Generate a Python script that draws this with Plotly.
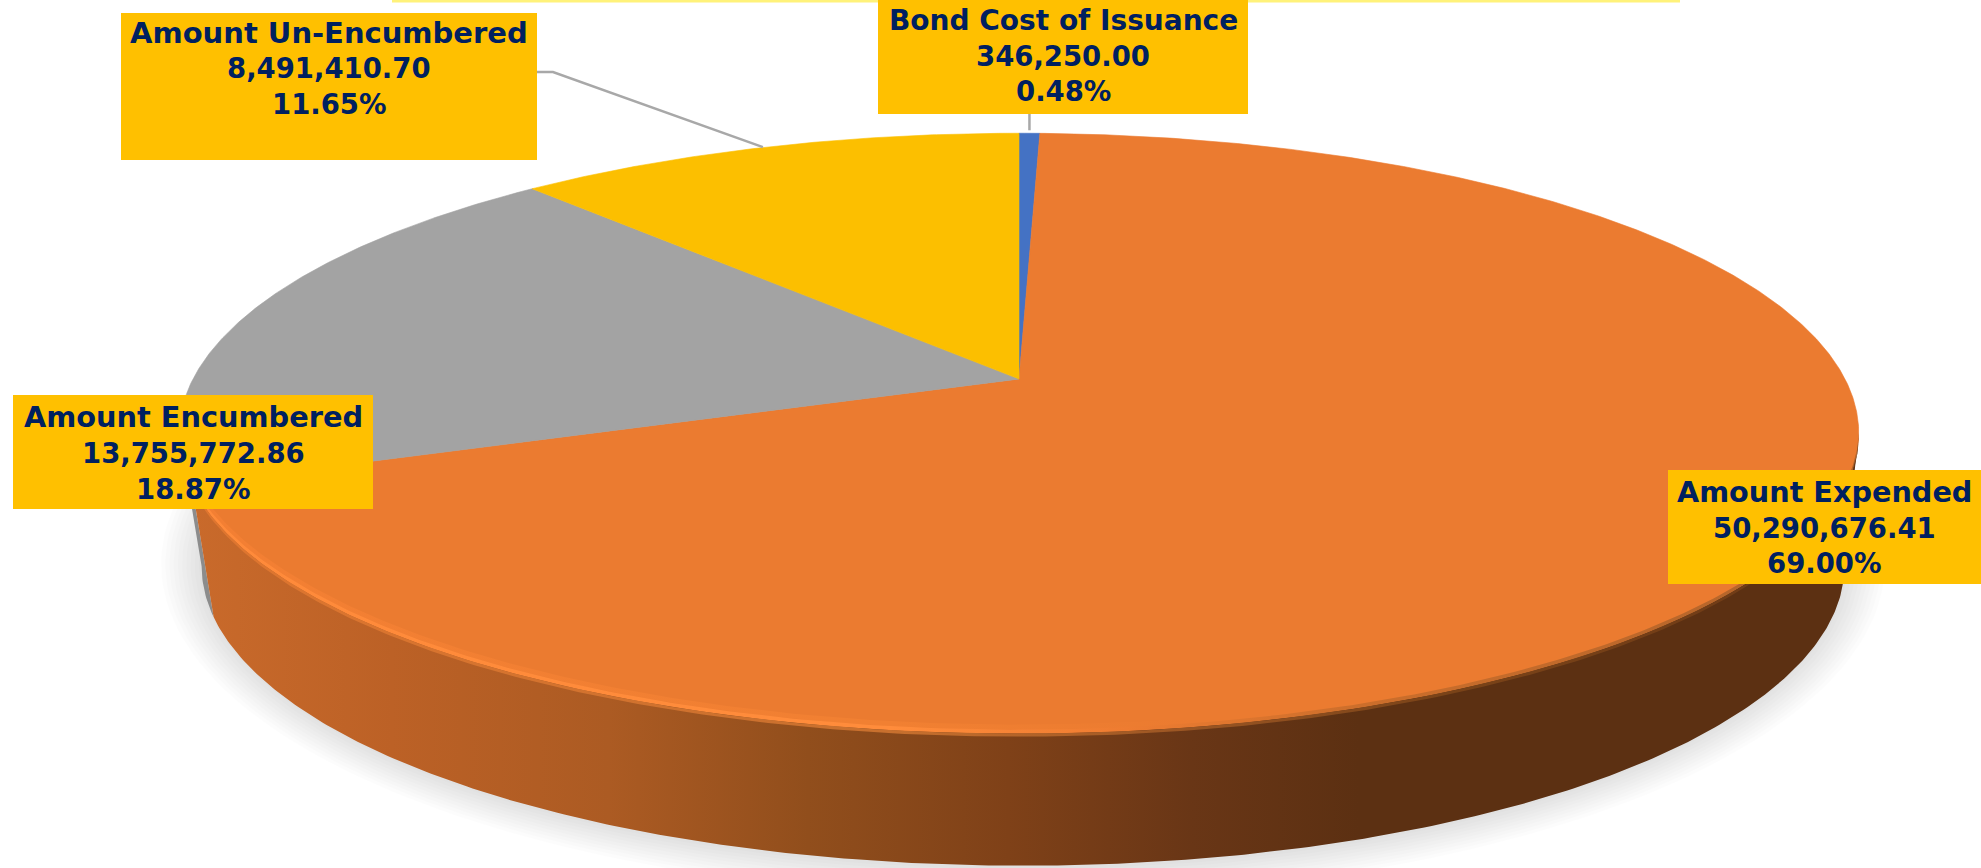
import numpy as np
import plotly.graph_objects as go

# ---- data ----
categories = ["Bond Cost of Issuance", "Amount Expended", "Amount Encumbered", "Amount Un-Encumbered"]
values = [346250.00, 50290676.41, 13755772.86, 8491410.70]

# ---- styles ----
slice_colors = ["#4472C4", "#EB7B30", "#A3A3A3", "#FCBF00"]
label_fill = "#FFC000"
label_ink = "#002060"
W, H = 1981, 868

# perspective model of the tilted disc (page pixels on hidden axes)
APEX_X, APEX_Y = 1019.0, 379.0
A, B, P = 826.0, 290.0, 0.18
BOTTOM_X, BOTTOM_Y, BOTTOM_A = 1023.0, 512.0, 808.0


def rim(theta_deg, bottom=False):
    t = np.radians(np.asarray(theta_deg, dtype=float))
    X, Y = np.sin(t), np.cos(t)
    w = 1 + P * Y
    if bottom:
        return BOTTOM_X + BOTTOM_A * X / w, BOTTOM_Y - B * Y / w
    return APEX_X + A * X / w, APEX_Y - B * Y / w


total = sum(values)
shares = [v / total for v in values]
edges = np.concatenate([[0.0], np.cumsum(shares)]) * 360.0
fig = go.Figure()

# soft ground shadow
for k in range(10):
    t = np.linspace(0, 2 * np.pi, 240)
    fig.add_trace(go.Scatter(
        x=1023 + (862 - 4.2 * k) * np.cos(t), y=564 + (334 - 3.2 * k) * np.sin(t),
        mode="lines", fill="toself", fillcolor="rgba(0,0,0,0.0115)", line=dict(width=0),
        hoverinfo="skip", showlegend=False))

# side wall: grey sliver and shaded orange wall
LEFT_EXTREME = -np.degrees(np.arccos(-P))
exp_end = edges[2] - 360.0
gx, gy = rim(np.linspace(exp_end, LEFT_EXTREME, 20))
gbx, gby = rim(np.linspace(LEFT_EXTREME, exp_end, 20), bottom=True)
fig.add_trace(go.Scatter(x=np.r_[gx, gbx], y=np.r_[gy, gby], mode="lines", fill="toself",
                         fillcolor="#8C8C8C", line=dict(width=0), hoverinfo="skip", showlegend=False))
th = np.linspace(exp_end, -360 - LEFT_EXTREME, 300)
tx, ty = rim(th)
bx, by = rim(th[::-1], bottom=True)
wall_stops = [[0.0, "#C96A2B"], [0.12, "#BC6126"], [0.25, "#AC5B23"], [0.37, "#914E1C"], [0.49, "#7F4118"],
              [0.60, "#693616"], [0.70, "#5C3012"], [1.0, "#5C3012"]]
fig.add_trace(go.Scatter(x=np.r_[tx, bx], y=np.r_[ty, by], mode="lines", fill="toself",
                         fillcolor="#8B4A1C",
                         fillgradient=dict(type="horizontal", colorscale=wall_stops),
                         line=dict(width=0), hoverinfo="skip", showlegend=False))

# top face slices, computed from the values
for name, val, share, c, a0, a1 in zip(categories, values, shares, slice_colors, edges[:-1], edges[1:]):
    arc = np.linspace(a0, a1, max(3, int((a1 - a0) * 3)))
    ax, ay = rim(arc)
    fig.add_trace(go.Scatter(x=np.r_[APEX_X, ax, APEX_X], y=np.r_[APEX_Y, ay, APEX_Y], mode="lines",
                             fill="toself", fillcolor=c, line=dict(width=0.6, color=c), name=name,
                             text=f"{name}<br>{val:,.2f}<br>{share:.2%}", hoverinfo="text", showlegend=False))

# soft bevel along the front edge of the top face: three stacked bands
band = np.linspace(exp_end, -360 - LEFT_EXTREME, 300)
rx, ry = rim(band)
bevel_layers = [
    (-8, -3, [[0, "#F37F33"], [0.42, "#F18032"], [0.6, "#EB7B30"], [1, "#EB7B30"]]),
    (-3, 1, [[0, "#FF8A3A"], [0.42, "#FF8C3B"], [0.56, "#EE7C31"], [0.7, "#CC6E2B"], [1, "#B0632A"]]),
    (1, 4, [[0, "#E0762F"], [0.42, "#C8702E"], [0.6, "#9A5523"], [0.75, "#7A4318"], [1, "#6E3A16"]]),
]
for d0, d1, stops in bevel_layers:
    fig.add_trace(go.Scatter(x=np.r_[rx, rx[::-1]], y=np.r_[ry + d0, ry[::-1] + d1], mode="lines", fill="toself",
                             fillcolor="#FF8A3A", fillgradient=dict(type="horizontal", colorscale=stops),
                             line=dict(width=0), hoverinfo="skip", showlegend=False))

# leader lines end on the rim at the middle of their slice
mid = (edges[:-1] + edges[1:]) / 2
bx0, by0 = rim(mid[0])
ux0, uy0 = rim(mid[3])
leader_style = dict(mode="lines", line=dict(color="#A8A8A8", width=2.5), hoverinfo="skip", showlegend=False)
fig.add_trace(go.Scatter(x=[bx0, bx0], y=[114, by0 - 3], **leader_style))
fig.add_trace(go.Scatter(x=[537, 553, ux0 - 3], y=[72, 72, uy0], **leader_style))

# label boxes: x0, y0, x1, y1, centre y of each text line, name font size
boxes = {
    "Bond Cost of Issuance": (878, 0, 1248, 114, (20, 55.5, 90.5), 28),
    "Amount Expended": (1668, 470, 1981, 584, (491.6, 527.6, 563), 28.7),
    "Amount Encumbered": (13, 395, 373, 509, (416.6, 453.4, 488.6), 28.8),
    "Amount Un-Encumbered": (121, 13, 537, 160, (32.5, 68, 103.5), 29),
}
VALUE_SIZE = 27.5
shapes = [dict(type="rect", xref="x", yref="y", x0=392, x1=1680, y0=0, y1=2.5,
               fillcolor="#FFF27A", line=dict(width=0), layer="above")]
annotations = []
for name, val, share in zip(categories, values, shares):
    x0, y0, x1, y1, lines, name_size = boxes[name]
    shapes.append(dict(type="rect", xref="x", yref="y", x0=x0, x1=x1, y0=y0, y1=y1,
                       fillcolor=label_fill, line=dict(width=0), layer="above"))
    for text, yc, fs in zip((name, f"{val:,.2f}", f"{share:.2%}"), lines, (name_size, VALUE_SIZE, VALUE_SIZE)):
        annotations.append(dict(
            x=(x0 + x1) / 2, y=yc, xref="x", yref="y", xanchor="center", yanchor="middle",
            showarrow=False, align="center", text=f"<b>{text}</b>",
            font=dict(family="DejaVu Sans", size=fs, color=label_ink)))

fig.update_layout(
    width=W, height=H, margin=dict(l=0, r=0, t=0, b=0),
    paper_bgcolor="white", plot_bgcolor="white", showlegend=False,
    xaxis=dict(range=[0, W], visible=False, fixedrange=True),
    yaxis=dict(range=[H, 0], visible=False, fixedrange=True),
    shapes=shapes, annotations=annotations,
)
fig.write_html("out.html", config={"displayModeBar": False},
               post_script="document.body.style.margin='0';document.body.style.overflow='hidden';")
